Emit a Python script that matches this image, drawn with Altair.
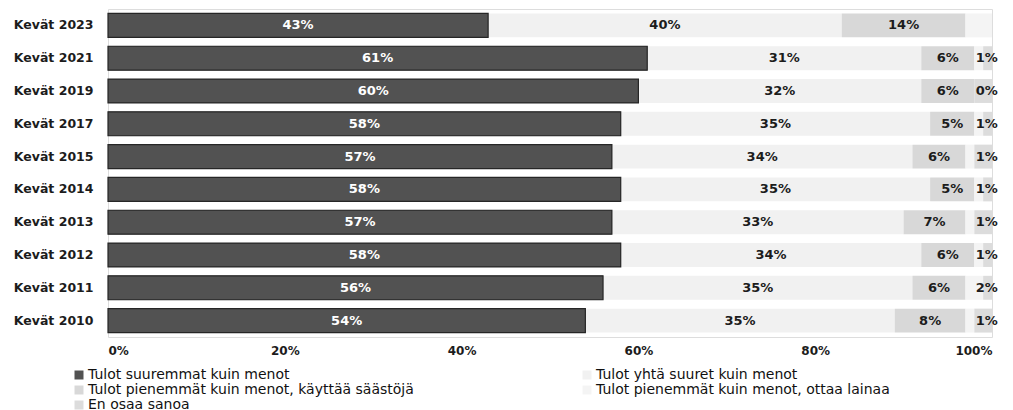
import altair as alt
import pandas as pd

years = ["Kevät 2023", "Kevät 2021", "Kevät 2019", "Kevät 2017", "Kevät 2015",
         "Kevät 2014", "Kevät 2013", "Kevät 2012", "Kevät 2011", "Kevät 2010"]
cats = ["Tulot suuremmat kuin menot",
        "Tulot yhtä suuret kuin menot",
        "Tulot pienemmät kuin menot, käyttää säästöjä",
        "Tulot pienemmät kuin menot, ottaa lainaa",
        "En osaa sanoa"]
colors = ["#525252", "#f1f1f1", "#d8d8d8", "#f4f4f4", "#dcdcdc"]
# legend laid out column by column: left column, then right column
legend_order = [cats[0], cats[2], cats[4], cats[1], cats[3]]

suuremmat = [43, 61, 60, 58, 57, 58, 57, 58, 56, 54]
yhta = [40, 31, 32, 35, 34, 35, 33, 34, 35, 35]
saastoja = [14, 6, 6, 5, 6, 5, 7, 6, 6, 8]
lainaa = [3, 1, 0, 1, 1, 1, 1, 1, 2, 1]
lainaa_labels = ["", "1%", "0%", "1%", "1%", "1%", "1%", "1%", "2%", "1%"]
en_osaa = [0, 1, 2, 1, 2, 1, 2, 1, 1, 2]

series = [suuremmat, yhta, saastoja, lainaa, en_osaa]
rows = []
for i, y in enumerate(years):
    for k, c in enumerate(cats):
        v = series[k][i]
        if k <= 2:
            lab = f"{v}%"
        elif k == 3:
            lab = lainaa_labels[i]
        else:
            lab = ""
        rows.append({"year": y, "cat": c, "order": k, "value": v, "label": lab})
df = pd.DataFrame(rows)

FONT = "DejaVu Sans"
TXT = "#1c1c1c"

yenc = alt.Y("year:N", sort=years, title=None,
             scale=alt.Scale(paddingInner=0.27),
             axis=alt.Axis(domain=False, ticks=False, labelPadding=15,
                           labelFont=FONT, labelFontSize=12.5, labelFontWeight="bold",
                           labelColor=TXT))

base = alt.Chart(df).transform_stack(
    stack="value", groupby=["year"], sort=[alt.SortField("order")], as_=["x0", "x1"]
).transform_calculate(mid="(datum.x0 + datum.x1) / 2")

xscale = alt.Scale(domain=[0, 100], nice=False, zero=True)

bars = base.mark_bar().encode(
    x=alt.X("x0:Q", scale=xscale, title=None,
            axis=alt.Axis(values=[0, 20, 40, 60, 80, 100],
                          labelExpr="datum.value + '%'",
                          domain=False, ticks=False, grid=False, labelPadding=8,
                          labelFont=FONT, labelFontSize=12, labelFontWeight="bold",
                          labelColor=TXT)),
    x2="x1:Q",
    y=yenc,
    color=alt.Color("cat:N",
                    scale=alt.Scale(domain=cats, range=colors),
                    legend=alt.Legend(title=None, orient="none", legendX=-36, legendY=359,
                                      values=legend_order,
                                      columns=2, columnPadding=166, rowPadding=1,
                                      symbolType="square", symbolSize=81,
                                      symbolStrokeWidth=0, labelOffset=2,
                                      labelLimit=600,
                                      labelFont=FONT, labelFontSize=14,
                                      labelColor="#111111", padding=0)),
)

dark = base.transform_filter("datum.order == 0").mark_bar(
    fill="#525252", stroke="#262626", strokeWidth=1.2
).encode(x=alt.X("x0:Q", scale=xscale), x2="x1:Q", y=yenc)

labels_mid = base.transform_filter("datum.order <= 2").mark_text(
    font=FONT, fontSize=13, fontWeight="bold", align="center", baseline="middle"
).encode(
    x=alt.X("mid:Q", scale=xscale),
    y=yenc,
    text="label:N",
    color=alt.condition("datum.order == 0", alt.value("#ffffff"), alt.value(TXT)),
)

labels_end = base.transform_filter("datum.order == 3").mark_text(
    font=FONT, fontSize=13, fontWeight="bold", align="center", baseline="middle",
    color=TXT
).encode(
    x=alt.datum(99.4, scale=xscale),
    y=yenc,
    text="label:N",
)

chart = alt.layer(bars, dark, labels_mid, labels_end).properties(
    width=884, height=328,
    autosize=alt.AutoSizeParams(type="none"),
    padding={"left": 100, "top": 1, "right": 13, "bottom": 73},
).configure_view(stroke=None).configure(background="white")

chart.save("out.html", embed_options={"renderer": "svg", "actions": False})
